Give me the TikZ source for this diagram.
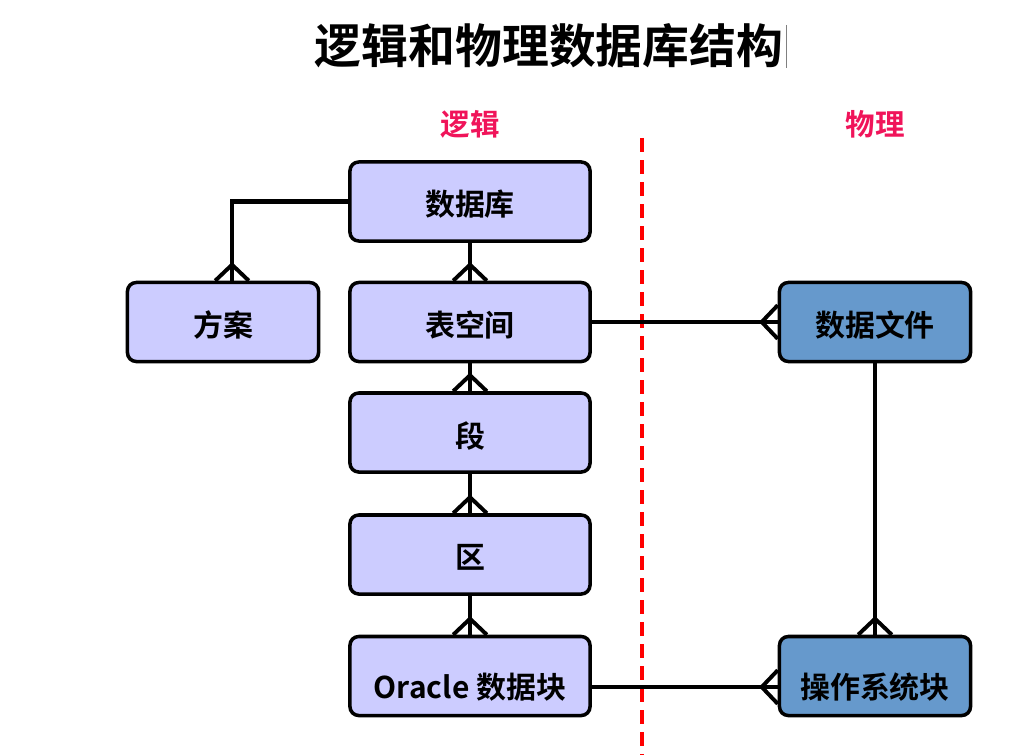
\documentclass[tikz,border=0pt]{standalone}
\usepackage{fontspec}
\usepackage{tikz}
\usetikzlibrary{decorations.markings}

\newfontfamily\cjk{Noto Sans CJK SC Bold}
\definecolor{logicfill}{HTML}{CCCCFF}
\definecolor{physfill}{HTML}{6699CC}
\definecolor{sidered}{HTML}{F0145A}
% move a box text down without changing the box
\newcommand{\lowered}[2]{\raisebox{-#1}[\height][\depth]{#2}}

\tikzset{
  entity/.style={draw, line width=2.5pt, rounded corners=0.22cm, fill=logicfill,
    minimum width=6cm, minimum height=1.975cm, inner sep=0pt,
    font=\cjk\fontsize{21.3}{24}\selectfont},
  physical/.style={entity, fill=physfill, minimum width=4.775cm},
  erline/.style={line width=3pt},
  crowfoot/.style={erline, postaction={decorate},
    decoration={markings, mark=at position 1 with {
      \draw[line width=2.8pt] (-0.4cm,0) -- (0,0.42cm);
      \draw[line width=2.8pt] (-0.4cm,0) -- (0,-0.42cm);}}},
  side/.style={text=sidered, font=\cjk\fontsize{21}{24}\selectfont}
}

\begin{document}
\begin{tikzpicture}[x=0.025cm,y=-0.025cm]
  \useasboundingbox (0,0) rectangle (1024,755);

  % title
  \node (title) at (549,46) {\cjk\fontsize{33.3}{38}\selectfont 逻辑和物理数据库结构};
  \draw[gray, line width=0.5pt] (786,25) -- (786,68);

  % sides
  \node[side] (logic) at (470,124) {逻辑};
  \node[side] (phys) at (875,124) {物理};
  \draw[red, line width=2.4pt, dash pattern=on 0.35cm off 0.2cm] (642,138) -- (642,755);

  % logical structure
  \node[entity] (db) at (470,201.5) {\lowered{0.075cm}{数据库}};
  \node[entity, minimum width=4.775cm] (schema) at (223,322) {\lowered{0.075cm}{方案}};
  \node[entity] (ts) at (470,322) {\lowered{0.075cm}{表空间}};
  \node[entity] (seg) at (470,432.5) {\lowered{0.075cm}{段}};
  \node[entity] (ext) at (470,554.5) {\lowered{0.075cm}{区}};
  \node[entity] (blk) at (470,676) {\lowered{0.275cm}{Oracle 数据块}};

  % physical structure
  \node[physical] (df) at (875,322) {\lowered{0.075cm}{数据文件}};
  \node[physical] (osb) at (875,676) {\lowered{0.275cm}{操作系统块}};

  % links
  \draw[crowfoot] (db.west) -| ([xshift=0.225cm]schema.north);
  \draw[crowfoot] (db) -- (ts);
  \draw[crowfoot] (ts) -- (seg);
  \draw[crowfoot] (seg) -- (ext);
  \draw[crowfoot] (ext) -- (blk);
  \draw[crowfoot] (ts.east) -- (df.west);
  \draw[crowfoot] (df) -- (osb);
  \draw[crowfoot] ([yshift=-0.275cm]blk.east) -- ([yshift=-0.275cm]osb.west);
\end{tikzpicture}
\end{document}
